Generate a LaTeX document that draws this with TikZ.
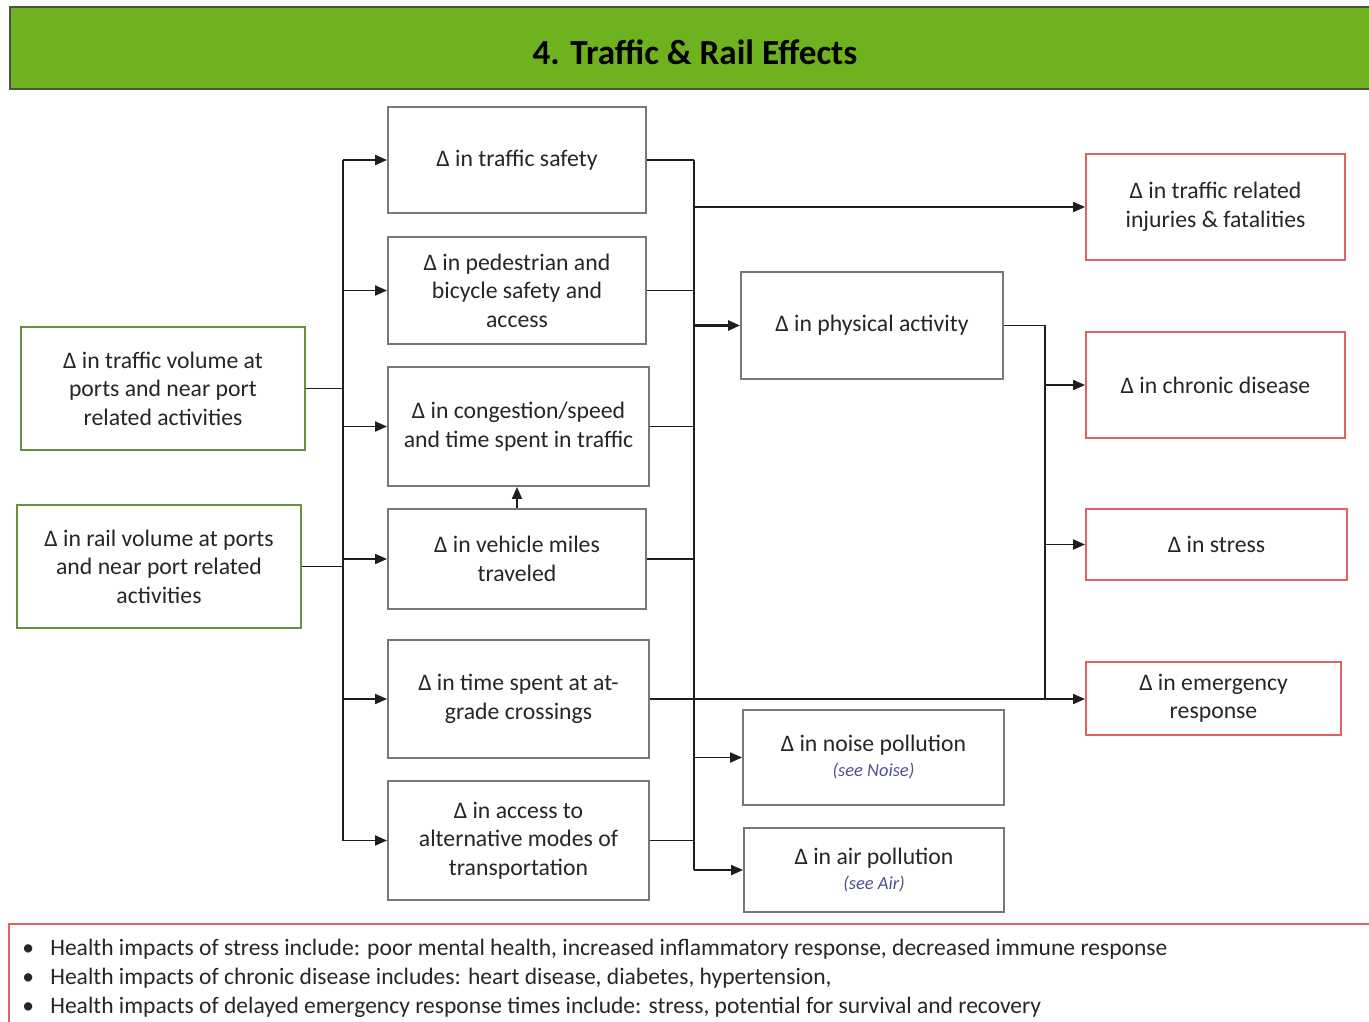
\documentclass[tikz,border=0pt]{standalone}
\usepackage{fontspec}
\setmainfont{Carlito}
\usetikzlibrary{arrows.meta}
\definecolor{titlegreen}{RGB}{110,178,32}
\definecolor{titleedge}{RGB}{70,85,60}
\definecolor{boxgray}{RGB}{120,120,120}
\definecolor{greenedge}{RGB}{106,143,62}
\definecolor{rededge}{RGB}{222,98,98}
\definecolor{textc}{RGB}{38,38,38}
\definecolor{linkc}{RGB}{30,30,30}
\definecolor{seec}{RGB}{80,80,150}
\newcommand{\seenotefont}{\fontsize{10.5}{12}\selectfont\itshape\color{seec}}
\tikzset{
  basebox/.style={rectangle, line width=1.1pt, fill=white, align=center,
    inner sep=2pt, text=textc, font=\fontsize{13.5}{16.2}\selectfont},
  graybox/.style={basebox, draw=boxgray},
  greenbox/.style={basebox, draw=greenedge},
  redbox/.style={basebox, draw=rededge},
  link/.style={draw=linkc, line width=1.1pt},
  arr/.style={link, -{Triangle[length=0.24cm, width=0.2cm]}}
}
\begin{document}
\begin{tikzpicture}[x=0.02cm, y=-0.02cm]
\useasboundingbox (0,0) rectangle (1369,1021);

% title bar
\fill[titlegreen] (10,7) rectangle (1369,89);
\draw[titleedge, line width=1.3pt] (1369,7) -- (10,7) -- (10,89) -- (1369,89);
\node[font=\fontsize{20}{22}\selectfont\bfseries, text=black] (title) at (695,52) {4. Traffic \& Rail Effects};

% sources
\node[greenbox, minimum width=5.68cm, minimum height=2.46cm] (tv) at (163,388.5)
  {Δ in traffic volume at\\ports and near port\\related activities};
\node[greenbox, minimum width=5.68cm, minimum height=2.46cm] (rv) at (159,566.5)
  {Δ in rail volume at ports\\and near port related\\activities};

% intermediate effects
\node[graybox, minimum width=5.16cm, minimum height=2.12cm] (ts) at (517,160)
  {Δ in traffic safety};
\node[graybox, minimum width=5.16cm, minimum height=2.14cm] (ped) at (517,290.5)
  {Δ in pedestrian and\\bicycle safety and\\access};
\node[graybox, minimum width=5.22cm, minimum height=2.38cm] (cong) at (518.5,426.5)
  {Δ in congestion/speed\\and time spent in traffic};
\node[graybox, minimum width=5.16cm, minimum height=2.0cm] (vmt) at (517,559)
  {Δ in vehicle miles\\traveled};
\node[graybox, minimum width=5.22cm, minimum height=2.36cm] (grade) at (518.5,699)
  {Δ in time spent at at-\\grade crossings};
\node[graybox, minimum width=5.22cm, minimum height=2.38cm] (acc) at (518.5,840.5)
  {Δ in access to\\alternative modes of\\transportation};

\node[graybox, minimum width=5.24cm, minimum height=2.14cm] (pa) at (872,325.5)
  {Δ in physical activity};
\node[graybox, minimum width=5.22cm, minimum height=1.9cm] (noise) at (873.5,757.5)
  {Δ in noise pollution\\[-2pt]{\seenotefont (see Noise)}};
\node[graybox, minimum width=5.2cm, minimum height=1.68cm] (air) at (874,870)
  {Δ in air pollution\\[-2pt]{\seenotefont (see Air)}};

% health outcomes
\node[redbox, minimum width=5.18cm, minimum height=2.12cm] (inj) at (1215.5,207)
  {Δ in traffic related\\injuries \& fatalities};
\node[redbox, minimum width=5.18cm, minimum height=2.12cm] (chr) at (1215.5,385)
  {Δ in chronic disease};
\node[redbox, minimum width=5.22cm, minimum height=1.42cm] (str) at (1216.5,544.5)
  {Δ in stress};
\node[redbox, minimum width=5.1cm, minimum height=1.46cm] (emg) at (1213.5,698.5)
  {Δ in emergency\\response};

% bus lines
\coordinate (b1) at (343,0);
\coordinate (b2) at (694,0);
\coordinate (b3) at (1045,0);

% sources to left bus
\draw[link] (tv.east) -- (tv.east -| b1);
\draw[link] (rv.east) -- (rv.east -| b1);
\draw[link] (ts.west -| b1) -- (acc.west -| b1);
\foreach \n in {ts,ped,cong,vmt,grade,acc}
  \draw[arr] (\n.west -| b1) -- (\n.west);

% vehicle miles feed congestion
\draw[arr] (vmt.north) -- (vmt.north |- cong.south);

% intermediate effects to middle bus
\foreach \n in {ts,ped,cong,vmt,grade,acc}
  \draw[link] (\n.east) -- (\n.east -| b2);
\draw[link] (ts.east -| b2) -- (air.west -| b2);
\draw[arr] (inj.west -| b2) -- (inj.west);
\draw[arr, line width=1.5pt] (pa.west -| b2) -- (pa.west);
\draw[arr] (noise.west -| b2) -- (noise.west);
\draw[arr] (air.west -| b2) -- (air.west);
\draw[arr] (grade.east) -- (grade.east -| emg.west);

% physical activity to right bus
\draw[link] (pa.east) -- (pa.east -| b3) -- (grade.east -| b3);
\draw[arr] (chr.west -| b3) -- (chr.west);
\draw[arr] (str.west -| b3) -- (str.west);

% notes
\draw[rededge, line width=1.1pt] (1369,924) -- (9,924) -- (9,1025);
\begin{scope}[every node/.style={anchor=base west, inner sep=0pt, text=textc, font=\fontsize{13.4}{15}\selectfont}]
\node (d1) at (22,955) {•};
\node (n1) at (50,955) {Health impacts of stress include: poor mental health, increased inflammatory response, decreased immune response};
\node (d2) at (22,984) {•};
\node (n2) at (50,984) {Health impacts of chronic disease includes: heart disease, diabetes, hypertension,};
\node (d3) at (22,1013) {•};
\node (n3) at (50,1013) {Health impacts of delayed emergency response times include: stress, potential for survival and recovery};
\end{scope}
\end{tikzpicture}
\end{document}
